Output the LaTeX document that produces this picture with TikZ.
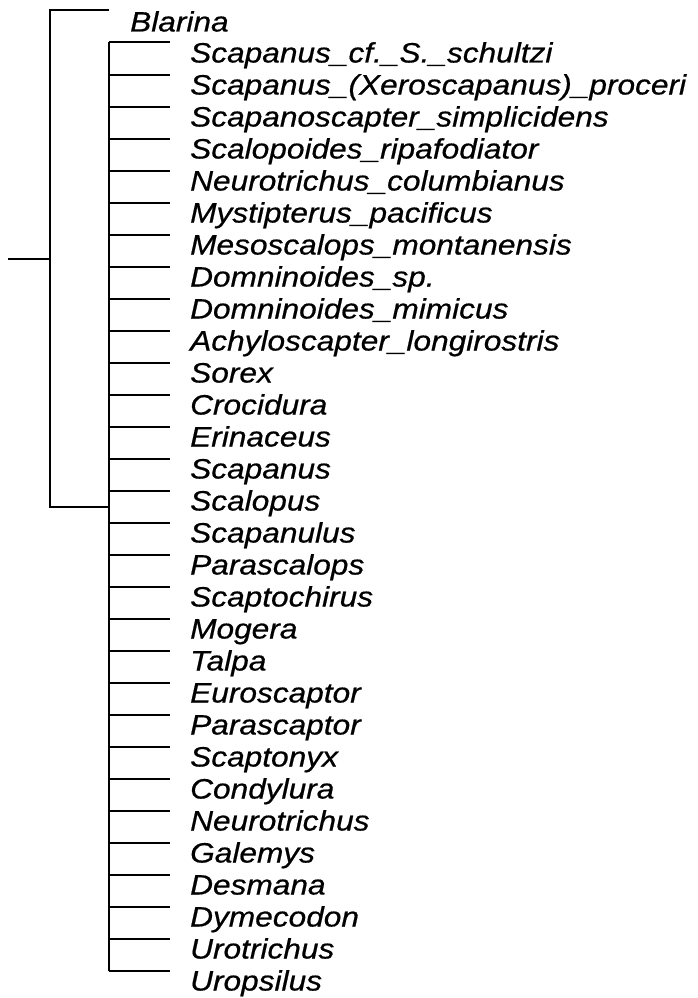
\documentclass[tikz,border=0pt]{standalone}
\usepackage{fontspec}
\usepackage{tikz}
\usetikzlibrary{positioning}
\newfontfamily\taxonfont{Liberation Sans}[FakeStretch=1.13,FakeBold=0.6]
\tikzset{branch/.style={line width=2pt,draw=black},taxon/.style={font=\taxonfont\itshape\fontsize{28}{28}\selectfont,anchor=base west,inner sep=0pt}}

\begin{document}
\begin{tikzpicture}[x=1pt,y=-1pt]
        \useasboundingbox (0,0) rectangle (697,998);
        \coordinate (stem) at (8,259);
        \coordinate (root) at (49.5,259);
        \coordinate (rtop) at (49.5,10.5);
        \coordinate (rbot) at (49.5,507);
        \coordinate (clade) at (109,507);
        \coordinate (ctop) at (109,42);
        \coordinate (cbot) at (109,971);
        \coordinate (bl) at (109,10.5);
        \node[taxon] (blarina) at (130,31.5){Blarina};
        \draw[branch] (stem)--(root);
        \draw[branch] (bl)--(rtop)--(rbot)--(clade);
        \draw[branch] (ctop)--(cbot);
        \foreach \name [count=\i] in {Scapanus\_cf.\_S.\_schultzi,Scapanus\_(Xeroscapanus)\_proceri,Scapanoscapter\_simplicidens,Scalopoides\_ripafodiator,Neurotrichus\_columbianus,Mystipterus\_pacificus,Mesoscalops\_montanensis,Domninoides\_sp.,Domninoides\_mimicus,Achyloscapter\_longirostris,Sorex,Crocidura,Erinaceus,Scapanus,Scalopus,Scapanulus,Parascalops,Scaptochirus,Mogera,Talpa,Euroscaptor,Parascaptor,Scaptonyx,Condylura,Neurotrichus,Galemys,Desmana,Dymecodon,Urotrichus,Uropsilus}{
          \coordinate (b\i) at (109,10.5+32*\i);
          \coordinate (e\i) at (170,10.5+32*\i);
          \node[taxon] (t\i) at (190,30.5+32*\i){\name};
          \draw[branch] (b\i)--(e\i);
        }
      \end{tikzpicture}
\end{document}
